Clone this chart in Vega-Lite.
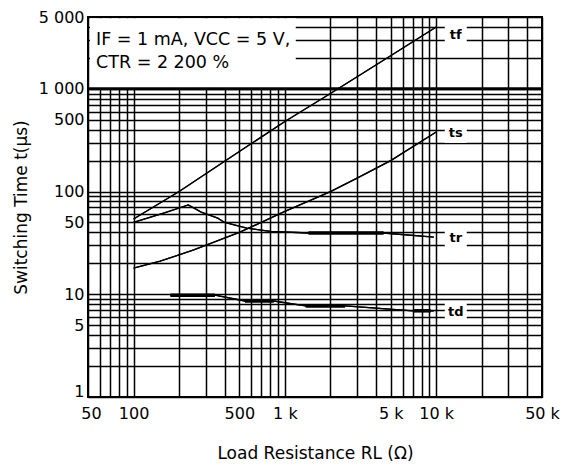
{
  "$schema": "https://vega.github.io/schema/vega-lite/v6.json",
  "width": 454,
  "height": 380,
  "autosize": {"type": "none"},
  "padding": {"left": 88, "top": 17, "right": 36, "bottom": 70},
  "config": {
    "view": {"stroke": "#000", "strokeWidth": 2},
    "font": "DejaVu Sans",
    "axis": {
      "gridColor": "#000", "gridOpacity": 1, "gridWidth": 1.5,
      "domain": false, "ticks": false, "labelOverlap": false, "labelFlush": false,
      "labelFont": "DejaVu Sans", "labelFontSize": 16, "labelColor": "#000",
      "titleFont": "DejaVu Sans", "titleFontSize": 17, "titleFontWeight": "normal", "titleColor": "#000"
    }
  },
  "datasets": {
    "curves": [
      {"curve": "tf", "R": 100, "t": 54}, {"curve": "tf", "R": 200, "t": 100}, {"curve": "tf", "R": 500, "t": 245},
      {"curve": "tf", "R": 1000, "t": 480}, {"curve": "tf", "R": 2000, "t": 900}, {"curve": "tf", "R": 5000, "t": 2100},
      {"curve": "tf", "R": 10000, "t": 4000},
      {"curve": "ts", "R": 100, "t": 18}, {"curve": "ts", "R": 150, "t": 21}, {"curve": "ts", "R": 250, "t": 27},
      {"curve": "ts", "R": 500, "t": 40}, {"curve": "ts", "R": 1000, "t": 64}, {"curve": "ts", "R": 2000, "t": 100},
      {"curve": "ts", "R": 3000, "t": 135}, {"curve": "ts", "R": 5000, "t": 200}, {"curve": "ts", "R": 10000, "t": 380},
      {"curve": "tr", "R": 100, "t": 50}, {"curve": "tr", "R": 160, "t": 62}, {"curve": "tr", "R": 230, "t": 74},
      {"curve": "tr", "R": 280, "t": 63}, {"curve": "tr", "R": 360, "t": 55}, {"curve": "tr", "R": 400, "t": 50},
      {"curve": "tr", "R": 560, "t": 44}, {"curve": "tr", "R": 800, "t": 41}, {"curve": "tr", "R": 1430, "t": 39.5},
      {"curve": "tr", "R": 4490, "t": 39.5}, {"curve": "tr", "R": 9640, "t": 36},
      {"curve": "td", "R": 175, "t": 9.8}, {"curve": "td", "R": 345, "t": 9.8}, {"curve": "td", "R": 545, "t": 8.6},
      {"curve": "td", "R": 845, "t": 8.6}, {"curve": "td", "R": 1370, "t": 7.7}, {"curve": "td", "R": 2500, "t": 7.7},
      {"curve": "td", "R": 7050, "t": 6.9}, {"curve": "td", "R": 9640, "t": 6.9}
    ],
    "segments": [
      {"seg": "td1", "R": 175, "t": 9.8}, {"seg": "td1", "R": 345, "t": 9.8},
      {"seg": "td2", "R": 545, "t": 8.6}, {"seg": "td2", "R": 845, "t": 8.6},
      {"seg": "td3", "R": 1370, "t": 7.7}, {"seg": "td3", "R": 2500, "t": 7.7},
      {"seg": "td4", "R": 7050, "t": 6.9}, {"seg": "td4", "R": 9200, "t": 6.9},
      {"seg": "tr1", "R": 1430, "t": 39.5}, {"seg": "tr1", "R": 4490, "t": 39.5}
    ],
    "labels": [
      {"label": "tf", "R": 13460, "t": 3350},
      {"label": "ts", "R": 13460, "t": 372},
      {"label": "tr", "R": 13460, "t": 35.3},
      {"label": "td", "R": 13460, "t": 6.7}
    ],
    "notes": [
      {"text": "IF = 1 mA, VCC = 5 V,", "R": 56.5, "t": 2990},
      {"text": "CTR = 2 200 %", "R": 56.5, "t": 1787}
    ],
    "ref": [{"t": 1000}],
    "one": [{}]
  },
  "layer": [
    {
      "data": {"name": "curves"},
      "mark": {"type": "line", "color": "#000", "strokeWidth": 1.3},
      "encoding": {
        "x": {
          "field": "R", "type": "quantitative",
          "scale": {"type": "log", "domain": [50, 50000], "nice": false},
          "axis": {
            "title": "Load Resistance  RL (Ω)", "titlePadding": 24,
            "values": [50, 60, 70, 80, 90, 100, 200, 300, 400, 500, 600, 700, 800, 900, 1000, 2000, 3000, 4000, 5000, 6000, 7000, 8000, 9000, 10000, 20000, 30000, 40000, 50000],
            "labelExpr": "datum.value == 50 ? '50' : datum.value == 100 ? '100' : datum.value == 500 ? '500' : datum.value == 1000 ? '1 k' : datum.value == 5000 ? '5 k' : datum.value == 10000 ? '10 k' : datum.value == 50000 ? '50 k' : ''",
            "labelPadding": 8,
            "labelOffset": {"condition": {"test": "datum.value == 50", "value": 3}, "value": 0}
          }
        },
        "y": {
          "field": "t", "type": "quantitative",
          "scale": {"type": "log", "domain": [1, 5000], "nice": false},
          "axis": {
            "title": "Switching Time  t(μs)", "titlePadding": 8,
            "values": [1, 2, 3, 4, 5, 6, 7, 8, 9, 10, 20, 30, 40, 50, 60, 70, 80, 90, 100, 200, 300, 400, 500, 600, 700, 800, 900, 1000, 2000, 3000, 4000, 5000],
            "labelExpr": "datum.value == 1 ? '1' : datum.value == 5 ? '5' : datum.value == 10 ? '10' : datum.value == 50 ? '50' : datum.value == 100 ? '100' : datum.value == 500 ? '500' : datum.value == 1000 ? '1 000' : datum.value == 5000 ? '5 000' : ''",
            "labelPadding": 4,
            "labelOffset": {"condition": {"test": "datum.value == 1", "value": -6}, "value": 0}
          }
        },
        "detail": {"field": "curve"}
      }
    },
    {
      "data": {"name": "one"},
      "mark": {"type": "rect", "fill": "#fff"},
      "encoding": {
        "x": {"datum": 51.5, "type": "quantitative"},
        "x2": {"datum": 1180},
        "y": {"datum": 1000, "type": "quantitative"},
        "y2": {"datum": 4850}
      }
    },
    {
      "data": {"name": "labels"},
      "mark": {"type": "rect", "fill": "#fff", "width": 22, "height": 20},
      "encoding": {
        "x": {"field": "R", "type": "quantitative"},
        "y": {"field": "t", "type": "quantitative"}
      }
    },
    {
      "data": {"name": "ref"},
      "mark": {"type": "rule", "color": "#000", "strokeWidth": 3},
      "encoding": {"y": {"field": "t", "type": "quantitative"}}
    },
    {
      "data": {"name": "curves"},
      "mark": {"type": "line", "color": "#000", "strokeWidth": 1.3},
      "encoding": {
        "x": {"field": "R", "type": "quantitative"},
        "y": {"field": "t", "type": "quantitative"},
        "detail": {"field": "curve"}
      }
    },
    {
      "data": {"name": "segments"},
      "mark": {"type": "line", "color": "#000", "strokeWidth": 3.5},
      "encoding": {
        "x": {"field": "R", "type": "quantitative"},
        "y": {"field": "t", "type": "quantitative"},
        "detail": {"field": "seg"}
      }
    },
    {
      "data": {"name": "labels"},
      "mark": {"type": "text", "fontSize": 13, "fontWeight": "bold", "color": "#000", "align": "center", "baseline": "middle"},
      "encoding": {
        "x": {"field": "R", "type": "quantitative"},
        "y": {"field": "t", "type": "quantitative"},
        "text": {"field": "label"}
      }
    },
    {
      "data": {"name": "notes"},
      "mark": {"type": "text", "fontSize": 17.5, "color": "#000", "align": "left", "baseline": "middle"},
      "encoding": {
        "x": {"field": "R", "type": "quantitative"},
        "y": {"field": "t", "type": "quantitative"},
        "text": {"field": "text"}
      }
    }
  ]
}
